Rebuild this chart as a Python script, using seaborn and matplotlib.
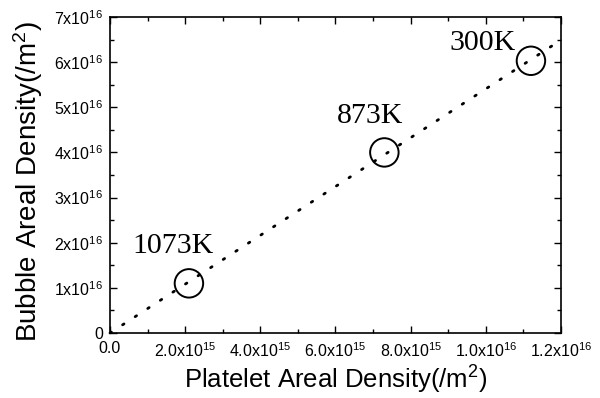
import seaborn as sns
import matplotlib.pyplot as plt
import matplotlib as mpl
import numpy as np
import pandas as pd

# values
temps = ["1073K", "873K", "300K"]
platelet = [2.1e15, 7.3e15, 1.12e16]   # /m^2
bubble = [1.1e16, 4.0e16, 6.03e16]     # /m^2
fit_x_end = 1.18e16

x_ticks = [0, 2e15, 4e15, 6e15, 8e15, 1e16, 1.2e16]
x_labels = ["0.0", r"2.0x10$^{15}$", r"4.0x10$^{15}$", r"6.0x10$^{15}$",
            r"8.0x10$^{15}$", r"1.0x10$^{16}$", r"1.2x10$^{16}$"]
y_ticks = [0, 1e16, 2e16, 3e16, 4e16, 5e16, 6e16, 7e16]
y_labels = ["0"] + [rf"{i}x10$^{{16}}$" for i in range(1, 8)]

sns.set_style("ticks", rc={"text.color": "black", "axes.labelcolor": "black",
                           "xtick.color": "black", "ytick.color": "black",
                           "axes.edgecolor": "black"})
plt.rcParams["font.family"] = ["Liberation Sans", "DejaVu Sans"]
plt.rcParams["mathtext.fontset"] = "custom"
plt.rcParams["mathtext.rm"] = "Liberation Sans"
plt.rcParams["mathtext.it"] = "Liberation Sans:italic"

df = pd.DataFrame({"platelet": platelet, "bubble": bubble, "temp": temps})

# least squares line through origin
slope = np.sum(df.platelet * df.bubble) / np.sum(df.platelet ** 2)
fit = pd.DataFrame({"x": [0, fit_x_end], "y": [0, slope * fit_x_end]})

fig = plt.figure(figsize=(6, 3.98), dpi=100)
ax = fig.add_axes([110 / 600, 1 - 333 / 398, 451 / 600, 316 / 398])

sns.lineplot(data=fit, x="x", y="y", ax=ax, color="black", clip_on=False,
             linestyle=(0, (0.6, 4.8)), linewidth=2.0, dash_capstyle="round")
sns.scatterplot(data=df, x="platelet", y="bubble", ax=ax, s=420,
                facecolor="none", edgecolor="black", linewidth=1.4, zorder=3)

# label offsets in points (left edge, vertical centre)
offsets = {"1073K": (-41, 27), "873K": (-34, 26), "300K": (-59, 12.5)}
for _, r in df.iterrows():
    ax.annotate(r.temp, (r.platelet, r.bubble), xytext=offsets[r.temp],
                textcoords="offset points", fontsize=21.5, ha="left", va="center",
                color="black", family=["Liberation Serif", "DejaVu Serif"])

ax.set_xlim(0, 1.2e16)
ax.set_ylim(0, 7e16)
ax.set_xticks(x_ticks)
ax.set_xticklabels(x_labels, fontsize=11.5)
ax.set_yticks(y_ticks)
ax.set_yticklabels(y_labels, fontsize=11.5)
ax.xaxis.set_minor_locator(mpl.ticker.MultipleLocator(1e15))
ax.yaxis.set_minor_locator(mpl.ticker.MultipleLocator(0.5e16))
ax.tick_params(which="both", direction="in", top=True, right=True,
               color="black", labelcolor="black", width=1)
ax.tick_params(which="major", length=5)
ax.tick_params(which="minor", length=3)
ax.tick_params(axis="x", which="major", pad=6)
ax.tick_params(axis="y", which="major", pad=5)
for s in ax.spines.values():
    s.set_linewidth(1.2)
    s.set_color("black")

ax.set_xlabel(r"Platelet Areal Density(/m$^2$)", fontsize=18.5, labelpad=3, color="black")
ax.set_ylabel(r"Bubble Areal Density(/m$^2$)", fontsize=20, color="black")
ax.yaxis.set_label_coords(-0.145, 0.48)

fig.savefig("out.png", dpi=100)
